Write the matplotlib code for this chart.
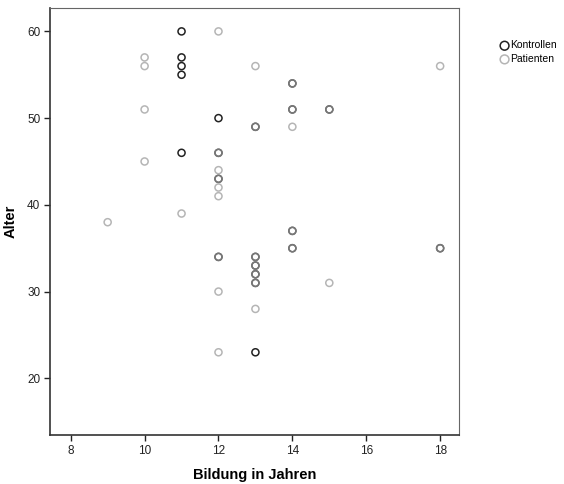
import matplotlib
matplotlib.use('Agg')
import matplotlib.pyplot as plt

plt.rcParams['font.family'] = ['Liberation Sans', 'DejaVu Sans']

# Bildung (years of schooling) and Alter (age) per group
kontrollen_bildung = [11, 11, 11, 11, 12, 11, 13,
                      12, 12, 12, 13, 14, 14, 15, 13, 13, 13, 13, 14, 14, 18]
kontrollen_alter = [60, 57, 56, 55, 50, 46, 23,
                    46, 43, 34, 49, 54, 51, 51, 34, 33, 32, 31, 37, 35, 35]

patienten_bildung = [12, 10, 10, 13, 18, 10, 14, 10, 12, 12, 12, 11, 9, 12, 15, 13, 12,
                     12, 12, 12, 13, 14, 14, 15, 13, 13, 13, 13, 14, 14, 18]
patienten_alter = [60, 57, 56, 56, 56, 51, 49, 45, 44, 42, 41, 39, 38, 30, 31, 28, 23,
                   46, 43, 34, 49, 54, 51, 51, 34, 33, 32, 31, 37, 35, 35]

x_ticks = [8, 10, 12, 14, 16, 18]
y_ticks = [20, 30, 40, 50, 60]

fig = plt.figure(figsize=(5.64, 4.84), dpi=100)
ax = fig.add_axes([0.0887, 0.1012, 0.7251, 0.8823])

ax.scatter(kontrollen_bildung, kontrollen_alter, s=26, facecolors='none',
           edgecolors='#222222', linewidths=1.1, label='Kontrollen', zorder=3)
ax.scatter(patienten_bildung, patienten_alter, s=26, facecolors='none',
           edgecolors='#999999', linewidths=1.1, alpha=0.72, label='Patienten', zorder=4)

ax.set_xlim(7.44, 18.51)
ax.set_ylim(13.46, 62.7)
ax.set_xticks(x_ticks)
ax.set_yticks(y_ticks)
ax.tick_params(direction='out', length=4, width=1, labelsize=8.5, colors='#222222', pad=3)
for side in ('top', 'right'):
    ax.spines[side].set_color('#666666')
for side in ('left', 'bottom'):
    ax.spines[side].set_color('#333333')
    ax.spines[side].set_linewidth(1.2)

ax.set_xlabel('Bildung in Jahren', fontsize=10.5, fontweight='bold', labelpad=8)
ax.set_ylabel('Alter', fontsize=10.5, fontweight='bold', labelpad=7)

leg = fig.legend(loc='upper left', bbox_to_anchor=(0.878, 0.925), frameon=False,
                 fontsize=7.5, handletextpad=0.0, labelspacing=0.35,
                 handlelength=1.0, borderaxespad=0)
for h in leg.legend_handles:
    h.set_alpha(1)
    h.set_sizes([40])
leg.legend_handles[1].set_edgecolor('#b5b5b5')

fig.savefig('out.png', dpi=100, facecolor='white')
